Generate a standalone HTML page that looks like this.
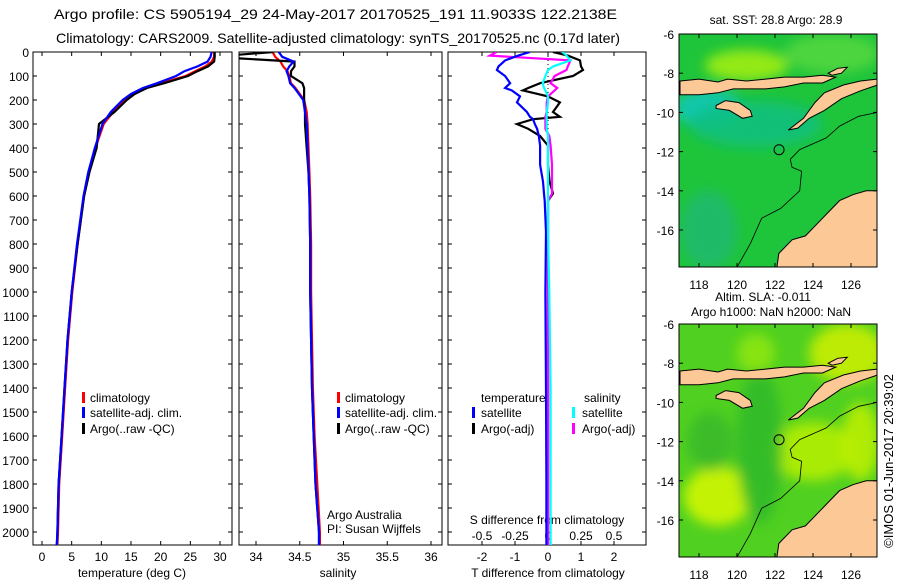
<!DOCTYPE html>
<html><head><meta charset="utf-8"><style>
body{margin:0;background:#fff;}
svg{display:block;font-family:"Liberation Sans",sans-serif;}
text{fill:#000;}
</style></head><body>
<svg id="chart" width="900" height="580" viewBox="0 0 900 580" xmlns="http://www.w3.org/2000/svg">
<defs>
<clipPath id="cT"><rect x="33" y="52" width="199" height="493"/></clipPath>
<clipPath id="cS"><rect x="239" y="52" width="203" height="493"/></clipPath>
<clipPath id="cD"><rect x="448" y="52" width="198" height="493"/></clipPath>
<clipPath id="cM1"><rect x="679" y="34" width="198" height="233"/></clipPath>
<clipPath id="cM2"><rect x="679" y="324" width="198" height="233"/></clipPath>
<filter id="bl"><feGaussianBlur stdDeviation="6"/></filter>
</defs>
<text x="54" y="19" font-size="14" textLength="563" lengthAdjust="spacingAndGlyphs">Argo profile: CS 5905194_29 24-May-2017 20170525_191 11.9033S 122.2138E</text>
<text x="56" y="43" font-size="14" textLength="564" lengthAdjust="spacingAndGlyphs">Climatology: CARS2009. Satellite-adjusted climatology: synTS_20170525.nc (0.17d later)</text>
<g id="g"></g>
<text transform="translate(893,461) rotate(-90)" text-anchor="middle" font-size="13">©IMOS 01-Jun-2017 20:39:02</text>
</svg>
<script>
// ---- data ----
const depthTicks=[0,100,200,300,400,500,600,700,800,900,1000,1100,1200,1300,1400,1500,1600,1700,1800,1900,2000];
const tTicks=[0,5,10,15,20,25,30];
const sTicks=[34,34.5,35,35.5,36];
const sTickLabels=["34","34.5","35","35.5","36"];
const dTTicks=[-2,-1,0,1,2];
const dSTicks=[-0.5,-0.25,0,0.25,0.5];
const dSTickLabels=["-0.5","-0.25","0","0.25","0.5"];
const depths=[0,20,40,60,80,100,130,150,175,200,250,300,400,500,600,800,1000,1200,1400,1600,1800,2000,2055];
const tClim=[29.0,29.0,28.6,27.5,25.8,24.2,20.0,17.4,15.6,14.0,12.0,10.4,9.0,7.9,7.1,6.0,5.1,4.4,3.9,3.4,2.9,2.7,2.6];
const tSat=[28.6,28.4,27.9,26.2,24.0,22.6,19.4,17.0,15.0,13.6,11.6,10.2,8.9,7.8,7.0,5.9,5.0,4.3,3.8,3.3,2.8,2.6,2.5];
const tArgo=[29.1,29.1,29.0,28.0,26.2,24.6,20.6,17.7,15.6,14.3,12.2,9.6,9.2,8.0,7.1,6.0,5.0,4.3,3.8,3.3,2.8,2.6,2.5];
const sClim=[34.19,34.22,34.28,34.31,34.36,34.38,34.40,34.45,34.50,34.55,34.58,34.59,34.60,34.61,34.62,34.63,34.63,34.64,34.65,34.67,34.70,34.73,34.73];
const sSat=[34.26,34.30,34.43,34.38,34.35,34.37,34.39,34.44,34.49,34.54,34.56,34.58,34.59,34.60,34.61,34.62,34.62,34.63,34.64,34.66,34.68,34.72,34.72];
const sArgo=[34.20,33.5,34.44,34.44,34.40,34.40,34.53,34.55,34.55,34.55,34.56,34.56,34.58,34.60,34.61,34.62,34.62,34.63,34.64,34.66,34.68,34.72,34.72];
const dDepths=[0,15,35,60,75,100,130,150,160,185,210,250,270,280,300,320,350,390,470,540,590,620,750,1000,1400,1800,2055];
const dTSat=[-0.55,-0.9,-1.3,-1.5,-1.55,-1.3,-1.15,-1.3,-1.1,-0.85,-0.94,-0.64,-0.55,-0.45,-0.4,-0.33,-0.28,-0.24,-0.24,-0.15,-0.12,-0.1,-0.06,-0.08,-0.06,-0.05,-0.05];
const dTArgo=[0.15,0.6,0.97,1.0,1.06,0.76,-0.24,-0.6,-0.76,0.0,0.36,0.15,0.36,-0.45,-0.94,-0.6,-0.24,0.0,0.0,0.05,0.15,0.0,0.0,0.0,0.0,0.0,0.0];
const dSSat=[0.11,0.14,0.17,0.04,0.0,-0.02,-0.04,-0.03,-0.02,0.0,0.0,-0.01,-0.01,-0.01,-0.01,-0.01,0.0,0.0,0.0,0.0,0.0,0.0,0.0,0.01,0.02,0.02,0.02];
const dSArgo=[-0.39,-0.44,0.17,0.15,0.14,0.05,0.02,0.07,0.05,0.0,-0.01,-0.01,-0.02,-0.02,-0.02,-0.02,0.01,0.02,0.03,0.03,0.03,0.0,0.0,0.0,0.0,0.0,0.0];
// ---- helpers ----
const NS="http://www.w3.org/2000/svg";
const G=document.getElementById('g');
function mk(tag,attrs,parent){const e=document.createElementNS(NS,tag);for(const k in attrs)e.setAttribute(k,attrs[k]);(parent||G).appendChild(e);return e;}
const yD=d=>52+d*0.24;
const xT=v=>42+v*(178/30);
const xS=v=>256+(v-34)*87.5;
const xDT=v=>548+v*33;
const xDS=v=>548+v*132;
function box(x,y,w,h,name){const r=mk('rect',{x:x,y:y,width:w,height:h,fill:'none',stroke:'#000','stroke-width':1});}
function txt(x,y,s,sz,anchor,name){const t=mk('text',{x:x,y:y,'font-size':sz,'text-anchor':anchor||'start'});t.textContent=s;return t;}
function line(vals,ds,xf,col,clip,name){const p=vals.map((v,i)=>xf(v).toFixed(1)+','+yD(ds[i]).toFixed(1)).join(' ');const e=mk('polyline',{points:p,fill:'none',stroke:col,'stroke-width':2.2,'clip-path':'url(#'+clip+')'});}
function panelFrame(x0,x1){
  depthTicks.forEach(d=>{const y=yD(d);mk('line',{x1:x0,y1:y,x2:x0+4,y2:y,stroke:'#000'});mk('line',{x1:x1-4,y1:y,x2:x1,y2:y,stroke:'#000'});});
}
// ---- panel 1: temperature ----
box(33,52,199,493,'temperature-panel');
panelFrame(33,232);
depthTicks.forEach(d=>{txt(29,yD(d)+5,String(d),12,'end','depth-tick-label');});
tTicks.forEach((v,i)=>{const x=xT(v);mk('line',{x1:x,y1:545,x2:x,y2:541,stroke:'#000'});mk('line',{x1:x,y1:52,x2:x,y2:56,stroke:'#000'});txt(x,561,String(v),12,'middle','temperature-tick-label');});
txt(132,577,'temperature (deg C)',12,'middle','temperature-axis-title');
line(tClim,depths,xT,'#f00','cT','temperature-climatology-line');
line(tArgo,depths,xT,'#000','cT','temperature-argo-line');
line(tSat,depths,xT,'#00f','cT','temperature-satellite-line');
// ---- panel 2: salinity ----
box(239,52,203,493,'salinity-panel');
panelFrame(239,442);
sTicks.forEach((v,i)=>{const x=xS(v);mk('line',{x1:x,y1:545,x2:x,y2:541,stroke:'#000'});mk('line',{x1:x,y1:52,x2:x,y2:56,stroke:'#000'});txt(x,561,sTickLabels[i],12,'middle','salinity-tick-label');});
txt(338,577,'salinity',12,'middle','salinity-axis-title');
line(sClim,depths,xS,'#f00','cS','salinity-climatology-line');
line(sArgo,depths,xS,'#000','cS','salinity-argo-line');
line(sSat,depths,xS,'#00f','cS','salinity-satellite-line');
txt(327,519,'Argo Australia',12,'start','institution-label');
txt(327,533,'PI: Susan Wijffels',12,'start','pi-label');
// ---- panel 3: differences ----
box(448,52,198,493,'difference-panel');
panelFrame(448,646);
mk('line',{x1:548,y1:52,x2:548,y2:545,stroke:'#000','stroke-dasharray':'1,3'});
dTTicks.forEach(v=>{const x=xDT(v);mk('line',{x1:x,y1:545,x2:x,y2:541,stroke:'#000'});mk('line',{x1:x,y1:52,x2:x,y2:56,stroke:'#000'});txt(x,561,String(v),12,'middle','t-diff-tick-label');});
dSTicks.forEach((v,i)=>{txt(xDS(v),540,dSTickLabels[i],12,'middle','s-diff-tick-label');});
txt(547,524,'S difference from climatology',12,'middle','s-diff-axis-title');
txt(548,577,'T difference from climatology',12,'middle','t-diff-axis-title');
line(dTArgo,dDepths,xDT,'#000','cD','t-diff-argo-line');
line(dSArgo,dDepths,xDS,'#f0f','cD','s-diff-argo-line');
line(dTSat,dDepths,xDT,'#00f','cD','t-diff-satellite-line');
line(dSSat,dDepths,xDS,'#0ff','cD','s-diff-satellite-line');
// ---- legends ----
function leg(bx,tx,y,col,s,name){const r=mk('rect',{x:bx,y:y-10,width:3,height:11,fill:col});if(s)txt(tx,y,s,12,'start',name);}
leg(82,90,402,'#f00','climatology','legend-climatology');
leg(82,90,417,'#00f','satellite-adj. clim.','legend-satellite-adj');
leg(82,90,433,'#000','Argo(..raw -QC)','legend-argo');
leg(337,345,402,'#f00','climatology','legend-s-climatology');
leg(337,345,417,'#00f','satellite-adj. clim.','legend-s-satellite-adj');
leg(337,345,433,'#000','Argo(..raw -QC)','legend-s-argo');
txt(481,402,'temperature',12,'start','legend-temperature-heading');
txt(584,402,'salinity',12,'start','legend-salinity-heading');
leg(472,481,417,'#00f','satellite','legend-t-satellite');
leg(472,481,433,'#000','Argo(-adj)','legend-t-argo');
leg(572,582,417,'#0ff','satellite','legend-s-satellite');
leg(572,582,433,'#f0f','Argo(-adj)','legend-s-argo-adj');
// ---- maps ----
const lonTicks=[118,120,122,124,126];
const latTicks=[-6,-8,-10,-12,-14,-16];
const argoLon=122.2138, argoLat=-11.9033;
const landFlores=[[117,-8.4],[118,-8.3],[119,-8.45],[119.5,-8.3],[120.5,-8.4],[121.5,-8.3],[122.5,-8.2],[123.5,-8.2],[124.5,-8.1],[125.2,-8.2],[124.5,-8.5],[123.5,-8.5],[122.5,-8.7],[121.5,-8.8],[120.5,-8.8],[119.8,-8.8],[119,-9],[118,-9.1],[117,-9.1]];
const landSumba=[[118.9,-9.65],[119.4,-9.4],[120.1,-9.5],[120.7,-9.9],[120.8,-10.2],[120.3,-10.3],[119.6,-9.9],[118.9,-9.8]];
const landTimor=[[122.7,-10.9],[123.5,-10.3],[124.1,-9.5],[124.6,-9.0],[125.6,-8.6],[126.5,-8.4],[127.4,-8.3],[127.4,-8.6],[126.5,-8.9],[125.5,-9.3],[124.6,-9.9],[123.8,-10.3],[123.2,-10.8]];
const landWetar=[[124.8,-8.0],[125.3,-7.75],[125.8,-7.7],[125.5,-8.0],[125.0,-8.1]];
const landAus=[[122.1,-17.9],[122.2,-17.2],[122.9,-16.5],[123.6,-16.3],[124.3,-15.6],[124.9,-15.0],[125.4,-14.5],[126.1,-14.2],[126.8,-14.0],[127.4,-14.0],[127.4,-17.9]];
const isobath=[[120.0,-17.9],[120.7,-16.7],[121.3,-15.4],[122.3,-14.9],[123.3,-14.0],[123.4,-13.0],[122.9,-12.8],[122.8,-12.4],[123.3,-11.9],[124.0,-11.6],[124.7,-11.3],[125.4,-10.7],[126.4,-10.2],[127.4,-10.0]];
function drawMap(y0,clip,bg,blobs,name){
  const X=lon=>699+(lon-118)*19, Y=lat=>y0+(-6-lat)*19.6;
  const g=mk('g',{'clip-path':'url(#'+clip+')'});
  mk('rect',{x:679,y:y0,width:198,height:233,fill:bg},g);
  const bg2=mk('g',{filter:'url(#bl)'},g);
  blobs.forEach(b=>mk('ellipse',{cx:X(b[0]),cy:Y(b[1]),rx:b[2]*19,ry:b[3]*19.6,fill:b[4],opacity:0.85},bg2));
  const poly=(pts,fill,nm)=>{const e=mk('polygon',{points:pts.map(p=>X(p[0]).toFixed(1)+','+Y(p[1]).toFixed(1)).join(' '),fill:fill,stroke:'#000','stroke-width':1},g);};
  poly(landFlores,'#fbc896','land-flores');poly(landSumba,'#fbc896','land-sumba');poly(landTimor,'#fbc896','land-timor');poly(landWetar,'#fbc896','land-wetar');poly(landAus,'#fbc896','land-australia');
  const il=mk('polyline',{points:isobath.map(p=>X(p[0]).toFixed(1)+','+Y(p[1]).toFixed(1)).join(' '),fill:'none',stroke:'#000','stroke-width':0.8},g);
  const c=mk('circle',{cx:X(argoLon),cy:Y(argoLat),r:5,fill:'none',stroke:'#000','stroke-width':1});
  box(679,y0,198,233,name+'-frame');
  lonTicks.forEach(v=>{const x=X(v);mk('line',{x1:x,y1:y0+233,x2:x,y2:y0+229,stroke:'#000'});mk('line',{x1:x,y1:y0,x2:x,y2:y0+4,stroke:'#000'});txt(x,y0+255,String(v),12,'middle','longitude-tick-label');});
  latTicks.forEach(v=>{const y=Y(v);mk('line',{x1:679,y1:y,x2:683,y2:y,stroke:'#000'});mk('line',{x1:873,y1:y,x2:877,y2:y,stroke:'#000'});txt(674,y+5,String(v),12,'end','latitude-tick-label');});
}
drawMap(34,'cM1','#1ec43a',[[120.5,-7.6,2.2,0.8,'#a8f010'],[118.5,-9.8,1.8,1.0,'#10c8c0'],[121,-10.6,3.5,1.2,'#12c080'],[125,-7,2.5,1,'#55d840'],[118.5,-16,1.5,2,'#20b870'],[123.2,-17.4,0.6,0.4,'#10a8d0']],'sst-map');
drawMap(324,'cM2','#50d020',[[125.8,-7.5,2,1.5,'#d0f000'],[119,-14.8,1.8,1.5,'#d8f800'],[124,-12.5,2.2,1.5,'#b8f000'],[126.5,-12,1,2,'#c0f000'],[121.2,-12.2,1.2,4,'#30b828'],[118.6,-12,1.2,1.5,'#38b828'],[121,-7.5,1,1,'#90e810']],'sla-map');
txt(776,24,'sat. SST: 28.8 Argo: 28.9',12,'middle','sst-map-title');
txt(763,301,'Altim. SLA: -0.011',12,'middle','sla-map-title');
txt(771,316,'Argo h1000: NaN h2000: NaN',12,'middle','sla-map-subtitle');
</script>
</body></html>
